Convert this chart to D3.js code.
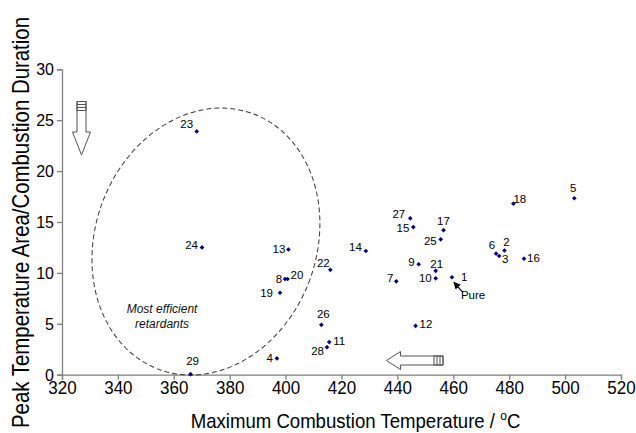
<!DOCTYPE html>
<html><head><meta charset="utf-8">
<script src="https://cdn.jsdelivr.net/npm/d3@7/dist/d3.min.js"></script>
<style>
body{margin:0;background:#fff}
text{font-family:Arial,"Liberation Sans",sans-serif}
</style></head><body>
<svg id="c" width="636" height="433"></svg>
<script>
// ---- data ----
const ids    = [1,2,3,4,5,6,7,8,9,10,11,12,13,14,15,16,17,18,19,20,21,22,23,24,25,26,27,28,29];
const temps  = [459.5,478.3,476.4,396.9,503.3,475.3,439.6,399.8,447.6,453.7,415.6,446.5,401.0,428.7,445.7,485.3,456.5,481.5,398.0,400.7,453.7,416.0,368.2,370.1,455.5,412.8,444.6,414.8,366.0];
const ratios = [9.57,12.2,11.66,1.6,17.33,11.9,9.17,9.4,10.85,9.47,3.2,4.8,12.3,12.15,14.5,11.4,14.2,16.8,8.05,9.4,10.2,10.3,23.9,12.5,13.3,4.9,15.36,2.7,0.05];
const xTicks = [320,340,360,380,400,420,440,460,480,500,520];
const yTicks = [0,5,10,15,20,25,30];
const xTitle = "Maximum Combustion Temperature / ";
const yTitle = "Peak Temperature Area/Combustion Duration";

// ---- label placement (layout only) ----
const labelPos = {1:[9,4,"start"],2:[2,-5,"middle"],3:[6,7,"middle"],4:[-4,4,"end"],5:[-1,-6,"middle"],
 6:[-4,-5,"middle"],7:[-3,1,"end"],8:[-3,4,"end"],9:[-4,2,"end"],10:[-4,4,"end"],11:[4,3,"start"],
 12:[4,2,"start"],13:[-3,4,"end"],14:[-4,0,"end"],15:[-4,5,"end"],16:[3,3,"start"],17:[0,-5,"middle"],
 18:[0,-1,"start"],19:[-7,4,"end"],20:[3,0,"start"],21:[1,-3,"middle"],22:[-7,-3,"middle"],23:[-10,-3,"middle"],
 24:[-4,2,"end"],25:[-4,6,"end"],26:[2,-7,"middle"],27:[-5,0,"end"],28:[-3,8,"end"],29:[2,-9,"middle"]};

const svg = d3.select("#c");
const x = d3.scaleLinear().domain([320,520]).range([62,621]);
const y = d3.scaleLinear().domain([0,30]).range([374.7,69.3]);
const axisCol = "#808080";

// axes
const gx = svg.append("g").attr("transform",`translate(0,${y(0)})`)
  .call(d3.axisBottom(x).tickValues(xTicks).tickSize(5).tickPadding(5).tickFormat(d3.format("d")));
const gy = svg.append("g").attr("transform",`translate(${x(320)},0)`)
  .call(d3.axisLeft(y).tickValues(yTicks).tickSize(5).tickPadding(3).tickFormat(d3.format("d")));
[gx,gy].forEach(g=>{
  g.select(".domain").attr("stroke",axisCol).attr("stroke-width",1.3);
  g.selectAll(".tick line").attr("stroke",axisCol).attr("stroke-width",1.3);
  g.selectAll(".tick text").attr("fill","#000").style("font-family","Arial, Liberation Sans, sans-serif");
});
gy.selectAll(".tick text").attr("dy","0.35em").style("font-size","16px");
gx.selectAll(".tick text").style("font-size","17px").attr("dy",0).attr("y",19.3/1.1)
  .attr("transform","scale(1,1.1)");

// titles
const xt = svg.append("text").attr("text-anchor","middle")
  .attr("transform",`translate(355.5,428) scale(1,1.13)`)
  .style("font-size","18.6px").attr("fill","#000");
xt.append("tspan").text(xTitle);
xt.append("tspan").text("o").attr("dy",-7).style("font-size","12px");
xt.append("tspan").text("C").attr("dy",7);
svg.append("text").attr("transform",`translate(29,222.5) rotate(-90) scale(1,1.14)`).attr("text-anchor","middle")
  .style("font-size","20.4px").attr("fill","#000").text(yTitle);

// dashed ellipse (efficient region)
const ec = [371.5,13.08];
svg.append("ellipse").attr("cx",0).attr("cy",0)
  .attr("rx",x(320+39.6)-x(320)).attr("ry",y(0)-y(13.38))
  .attr("transform",`translate(${x(ec[0])},${y(ec[1])}) rotate(20)`)
  .attr("fill","none").attr("stroke","#3a3a3a").attr("stroke-width",1).attr("stroke-dasharray","5,3");
const ett = svg.append("text").attr("text-anchor","middle").style("font-size","12px").style("font-style","italic").attr("fill","#111");
ett.append("tspan").attr("x",x(355.8)).attr("y",y(6.05)).text("Most efficient");
ett.append("tspan").attr("x",x(355.8)).attr("y",y(4.6)).text("retardants");

// points
const pts = ids.map((id,i)=>({id,t:temps[i],r:ratios[i]}));
svg.append("g").selectAll("path").data(pts).join("path")
  .attr("d",d3.symbol(d3.symbolDiamond2,14))
  .attr("transform",d=>`translate(${x(d.t)},${y(d.r)})`)
  .attr("fill","#00007a");
svg.append("g").selectAll("text").data(pts).join("text")
  .attr("x",d=>x(d.t)+labelPos[d.id][0]).attr("y",d=>y(d.r)+labelPos[d.id][1])
  .attr("text-anchor",d=>labelPos[d.id][2]).style("font-size","11.5px").attr("fill","#000")
  .text(d=>d.id);

// "Pure" callout
const p1 = pts[0];
svg.append("defs").append("marker").attr("id","ah").attr("viewBox","0 0 10 10").attr("refX",9).attr("refY",5)
  .attr("markerWidth",6).attr("markerHeight",6).attr("orient","auto")
  .append("path").attr("d","M0,0L10,5L0,10z").attr("fill","#000");
svg.append("line").attr("x1",x(p1.t)+11).attr("y1",y(p1.r)+15).attr("x2",x(p1.t)+2).attr("y2",y(p1.r)+5)
  .attr("stroke","#000").attr("stroke-width",1.2).attr("marker-end","url(#ah)");
svg.append("text").attr("x",x(p1.t)+9).attr("y",y(p1.r)+22).style("font-size","11.5px").attr("fill","#000").text("Pure");

// block arrows
function downArrow(cx,top,bot){
  const g=svg.append("g").attr("fill","#fff").attr("stroke","#555").attr("stroke-width",1);
  const sw=4.5, hw=9, hy=bot-23;
  g.append("path").attr("d",`M${cx-sw},${top}L${cx+sw},${top}L${cx+sw},${hy}L${cx+hw},${hy}L${cx},${bot}L${cx-hw},${hy}L${cx-sw},${hy}Z`);
  [3,6].forEach(o=>g.append("line").attr("x1",cx-sw).attr("x2",cx+sw).attr("y1",top+o).attr("y2",top+o));
  g.append("rect").attr("x",cx-sw).attr("y",top).attr("width",2*sw).attr("height",9).attr("fill","none");
}
function leftArrow(cy,tip,end){
  const g=svg.append("g").attr("fill","#fff").attr("stroke","#555").attr("stroke-width",1);
  const sh=4.5, hh=9, hx=tip+14;
  g.append("path").attr("d",`M${end},${cy-sh}L${end},${cy+sh}L${hx},${cy+sh}L${hx},${cy+hh}L${tip},${cy}L${hx},${cy-hh}L${hx},${cy-sh}Z`);
  [3,6].forEach(o=>g.append("line").attr("y1",cy-sh).attr("y2",cy+sh).attr("x1",end-o).attr("x2",end-o));
  g.append("rect").attr("x",end-9).attr("y",cy-sh).attr("width",9).attr("height",2*sh).attr("fill","none");
}
downArrow(81.5,101.5,155);
leftArrow(360.5,386.5,443);
</script></body></html>
